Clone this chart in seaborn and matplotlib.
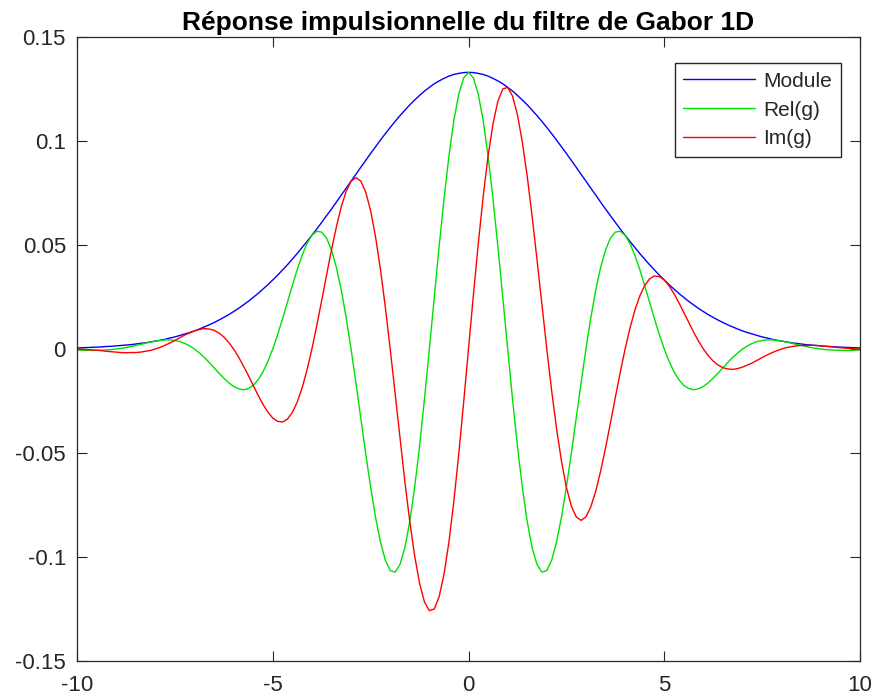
import numpy as np
import pandas as pd
import matplotlib
matplotlib.use("Agg")
import matplotlib.pyplot as plt
import seaborn as sns

# Sample positions of the 1D Gabor impulse response (step 0.125)
x = np.linspace(-10, 10, 161)

# one row per unit interval [a, a+1), eight samples each, then x = 10
module = [
    0.0005, 0.0006, 0.0007, 0.0008, 0.0009, 0.0010, 0.0012, 0.0013,
    0.0015, 0.0017, 0.0019, 0.0021, 0.0024, 0.0027, 0.0030, 0.0034,
    0.0038, 0.0042, 0.0047, 0.0053, 0.0058, 0.0065, 0.0072, 0.0079,
    0.0087, 0.0096, 0.0106, 0.0116, 0.0127, 0.0139, 0.0152, 0.0165,
    0.0180, 0.0195, 0.0212, 0.0229, 0.0248, 0.0267, 0.0288, 0.0309,
    0.0332, 0.0355, 0.0380, 0.0405, 0.0432, 0.0459, 0.0488, 0.0517,
    0.0547, 0.0577, 0.0609, 0.0641, 0.0673, 0.0706, 0.0740, 0.0773,
    0.0807, 0.0840, 0.0874, 0.0907, 0.0940, 0.0972, 0.1004, 0.1035,
    0.1065, 0.1094, 0.1122, 0.1148, 0.1174, 0.1197, 0.1219, 0.1240,
    0.1258, 0.1275, 0.1289, 0.1301, 0.1312, 0.1320, 0.1325, 0.1329,
    0.1330, 0.1329, 0.1325, 0.1320, 0.1312, 0.1301, 0.1289, 0.1275,
    0.1258, 0.1240, 0.1219, 0.1197, 0.1174, 0.1148, 0.1122, 0.1094,
    0.1065, 0.1035, 0.1004, 0.0972, 0.0940, 0.0907, 0.0874, 0.0840,
    0.0807, 0.0773, 0.0740, 0.0706, 0.0673, 0.0641, 0.0609, 0.0577,
    0.0547, 0.0517, 0.0488, 0.0459, 0.0432, 0.0405, 0.0380, 0.0355,
    0.0332, 0.0309, 0.0288, 0.0267, 0.0248, 0.0229, 0.0212, 0.0195,
    0.0180, 0.0165, 0.0152, 0.0139, 0.0127, 0.0116, 0.0106, 0.0096,
    0.0087, 0.0079, 0.0072, 0.0065, 0.0058, 0.0053, 0.0047, 0.0042,
    0.0038, 0.0034, 0.0030, 0.0027, 0.0024, 0.0021, 0.0019, 0.0017,
    0.0015, 0.0013, 0.0012, 0.0010, 0.0009, 0.0008, 0.0007, 0.0006,
    0.0005,
]

real_part = [
    -0.0005, -0.0006, -0.0006, -0.0007, -0.0006, -0.0006, -0.0004, -0.0003,
    0.0, 0.0003, 0.0007, 0.0012, 0.0017, 0.0022, 0.0028, 0.0033,
    0.0038, 0.0041, 0.0044, 0.0044, 0.0041, 0.0036, 0.0027, 0.0015,
    0.0, -0.0019, -0.0040, -0.0064, -0.0090, -0.0116, -0.0140, -0.0162,
    -0.0180, -0.0191, -0.0196, -0.0190, -0.0175, -0.0148, -0.0110, -0.0060,
    0.0, 0.0069, 0.0145, 0.0225, 0.0305, 0.0382, 0.0450, 0.0507,
    0.0547, 0.0566, 0.0562, 0.0533, 0.0476, 0.0392, 0.0283, 0.0151,
    0.0, -0.0164, -0.0334, -0.0504, -0.0664, -0.0808, -0.0927, -0.1015,
    -0.1065, -0.1073, -0.1036, -0.0955, -0.0830, -0.0665, -0.0467, -0.0242,
    0.0, 0.0249, 0.0493, 0.0723, 0.0927, 0.1098, 0.1224, 0.1303,
    0.1330, 0.1303, 0.1224, 0.1098, 0.0927, 0.0723, 0.0493, 0.0249,
    0.0, -0.0242, -0.0467, -0.0665, -0.0830, -0.0955, -0.1036, -0.1073,
    -0.1065, -0.1015, -0.0927, -0.0808, -0.0664, -0.0504, -0.0334, -0.0164,
    0.0, 0.0151, 0.0283, 0.0392, 0.0476, 0.0533, 0.0562, 0.0566,
    0.0547, 0.0507, 0.0450, 0.0382, 0.0305, 0.0225, 0.0145, 0.0069,
    0.0, -0.0060, -0.0110, -0.0148, -0.0175, -0.0190, -0.0196, -0.0191,
    -0.0180, -0.0162, -0.0140, -0.0116, -0.0090, -0.0064, -0.0040, -0.0019,
    0.0, 0.0015, 0.0027, 0.0036, 0.0041, 0.0044, 0.0044, 0.0041,
    0.0038, 0.0033, 0.0028, 0.0022, 0.0017, 0.0012, 0.0007, 0.0003,
    0.0, -0.0003, -0.0004, -0.0006, -0.0006, -0.0007, -0.0006, -0.0006,
    -0.0005,
]

imag_part = [
    0.0, -0.0001, -0.0003, -0.0004, -0.0006, -0.0008, -0.0011, -0.0013,
    -0.0015, -0.0017, -0.0018, -0.0017, -0.0017, -0.0015, -0.0011, -0.0007,
    0.0, 0.0008, 0.0018, 0.0029, 0.0041, 0.0054, 0.0067, 0.0077,
    0.0087, 0.0094, 0.0098, 0.0096, 0.0090, 0.0077, 0.0058, 0.0032,
    0.0, -0.0038, -0.0081, -0.0127, -0.0175, -0.0222, -0.0266, -0.0303,
    -0.0332, -0.0348, -0.0351, -0.0337, -0.0305, -0.0255, -0.0187, -0.0101,
    0.0, 0.0113, 0.0233, 0.0356, 0.0476, 0.0587, 0.0684, 0.0758,
    0.0807, 0.0824, 0.0807, 0.0754, 0.0665, 0.0540, 0.0384, 0.0202,
    0.0, -0.0213, -0.0429, -0.0638, -0.0830, -0.0995, -0.1126, -0.1216,
    -0.1258, -0.1250, -0.1191, -0.1082, -0.0928, -0.0733, -0.0507, -0.0259,
    0.0, 0.0259, 0.0507, 0.0733, 0.0928, 0.1082, 0.1191, 0.1250,
    0.1258, 0.1216, 0.1126, 0.0995, 0.0830, 0.0638, 0.0429, 0.0213,
    0.0, -0.0202, -0.0384, -0.0540, -0.0665, -0.0754, -0.0807, -0.0824,
    -0.0807, -0.0758, -0.0684, -0.0587, -0.0476, -0.0356, -0.0233, -0.0113,
    0.0, 0.0101, 0.0187, 0.0255, 0.0305, 0.0337, 0.0351, 0.0348,
    0.0332, 0.0303, 0.0266, 0.0222, 0.0175, 0.0127, 0.0081, 0.0038,
    0.0, -0.0032, -0.0058, -0.0077, -0.0090, -0.0096, -0.0098, -0.0094,
    -0.0087, -0.0077, -0.0067, -0.0054, -0.0041, -0.0029, -0.0018, -0.0008,
    0.0, 0.0007, 0.0011, 0.0015, 0.0017, 0.0017, 0.0018, 0.0017,
    0.0015, 0.0013, 0.0011, 0.0008, 0.0006, 0.0004, 0.0003, 0.0001,
    0.0,
]

series_names = ["Module", "Rel(g)", "Im(g)"]
series_colors = ["#0000ff", "#00e000", "#ff0000"]

x_ticks = [-10, -5, 0, 5, 10]
x_tick_labels = ["-10", "-5", "0", "5", "10"]
y_ticks = [-0.15, -0.1, -0.05, 0, 0.05, 0.1, 0.15]
y_tick_labels = ["-0.15", "-0.1", "-0.05", "0", "0.05", "0.1", "0.15"]

title = "Réponse impulsionnelle du filtre de Gabor 1D"

sns.set_style("white")
plt.rcParams["font.family"] = ["Liberation Sans", "DejaVu Sans"]
ink = "#262626"

df = pd.DataFrame({
    "x": np.concatenate([x, x, x]),
    "y": np.concatenate([module, real_part, imag_part]),
    "serie": np.repeat(series_names, len(x)),
})

fig = plt.figure(figsize=(8.76, 6.98), dpi=100)
ax = fig.add_axes([77 / 876, 37 / 698, 783 / 876, 624 / 698])

sns.lineplot(data=df, x="x", y="y", hue="serie", hue_order=series_names,
             palette=series_colors, estimator=None, sort=False,
             linewidth=1.0, ax=ax)

ax.set_xlim(-10, 10)
ax.set_ylim(-0.15, 0.15)
ax.set_xticks(x_ticks)
ax.set_xticklabels(x_tick_labels)
ax.set_yticks(y_ticks)
ax.set_yticklabels(y_tick_labels)
ax.set_xlabel("")
ax.set_ylabel("")

ax.tick_params(direction="in", length=7, width=0.8, color=ink,
               labelsize=16, labelcolor=ink, top=True, right=True,
               bottom=True, left=True)
ax.tick_params(axis="y", pad=8)
ax.tick_params(axis="x", pad=10)
for sp in ax.spines.values():
    sp.set_visible(True)
    sp.set_color(ink)
    sp.set_linewidth(0.9)

ax.set_title(title, fontsize=19, fontweight="bold", color="black", pad=5)

handles, labels = ax.get_legend_handles_labels()
ax.legend_.remove()
leg = fig.legend(handles, labels, loc="upper right",
                 bbox_to_anchor=(841 / 876, 1 - 63 / 698),
                 borderaxespad=0, fontsize=15, frameon=True, fancybox=False,
                 shadow=False, handlelength=3.45, handletextpad=0.4,
                 labelspacing=0.47, borderpad=0.42)
leg.get_frame().set_edgecolor(ink)
leg.get_frame().set_linewidth(1.0)
leg.get_frame().set_alpha(1)
for t in leg.get_texts():
    t.set_color(ink)

fig.savefig("out.png", dpi=100, facecolor="white")
